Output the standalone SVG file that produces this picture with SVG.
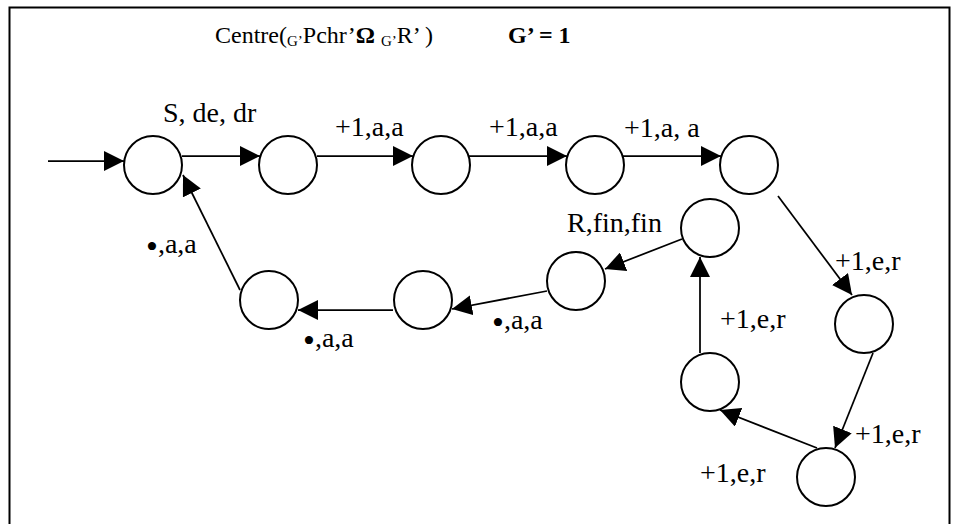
<svg xmlns="http://www.w3.org/2000/svg" width="959" height="524" viewBox="0 0 959 524">
<style>
.node{fill:#fff;stroke:#000;stroke-width:2}
.edge{fill:none;stroke:#000;stroke-width:1.75;marker-end:url(#arr)}
.lbl{font-family:"Liberation Serif","Times New Roman",serif;font-size:28px;fill:#000}
.ttl{font-family:"Liberation Serif","Times New Roman",serif;font-size:24px;fill:#000}
.sub{font-size:15px}
.bul{font-size:34px}
</style>
<defs>
<marker id="arr" markerUnits="userSpaceOnUse" markerWidth="20" markerHeight="20" refX="20" refY="10" orient="auto">
<path d="M0,0 L20,10 L0,20 z" fill="#000"/>
</marker>
</defs>
<rect x="9.5" y="7.5" width="940" height="540" fill="#fff" stroke="#000" stroke-width="2"/>
<g id="title">
<text class="ttl" x="215" y="43">Centre(<tspan class="sub" dy="3">G’</tspan><tspan dy="-3">Pchr’</tspan><tspan font-weight="bold">Ω </tspan><tspan class="sub" dy="3">G’</tspan><tspan dy="-3">R’ )</tspan></text>
<text class="ttl" x="508" y="43" font-weight="bold" font-size="21">G’ = 1</text>
</g>
<g id="connectors">
<line class="edge" x1="48" y1="161" x2="124" y2="161"/>
<line class="edge" x1="182" y1="156" x2="260" y2="156"/>
<line class="edge" x1="317" y1="156" x2="413" y2="156"/>
<line class="edge" x1="469" y1="156" x2="567" y2="156"/>
<line class="edge" x1="623" y1="156" x2="721" y2="156"/>
<line class="edge" x1="778" y1="196" x2="852" y2="295"/>
<line class="edge" x1="873" y1="353" x2="835" y2="448"/>
<line class="edge" x1="817" y1="448" x2="720" y2="410"/>
<line class="edge" x1="700" y1="353" x2="700" y2="257"/>
<line class="edge" x1="682" y1="239" x2="605" y2="269"/>
<line class="edge" x1="547" y1="291" x2="452" y2="309"/>
<line class="edge" x1="393" y1="310" x2="298" y2="310"/>
<line class="edge" x1="240" y1="290" x2="183" y2="175"/>
</g>
<g id="n1"><circle class="node" cx="153" cy="165" r="29"/></g>
<g id="n2"><circle class="node" cx="288" cy="165" r="29"/></g>
<g id="n3"><circle class="node" cx="441" cy="165" r="29"/></g>
<g id="n4"><circle class="node" cx="595" cy="165" r="29"/></g>
<g id="n5"><circle class="node" cx="749" cy="165" r="29"/></g>
<g id="n10"><circle class="node" cx="864" cy="324" r="29"/></g>
<g id="n11"><circle class="node" cx="826" cy="477" r="29"/></g>
<g id="n12"><circle class="node" cx="710" cy="382" r="29"/></g>
<g id="n9"><circle class="node" cx="710" cy="228" r="29"/></g>
<g id="n8"><circle class="node" cx="576" cy="281" r="29"/></g>
<g id="n7"><circle class="node" cx="423" cy="300" r="29"/></g>
<g id="n6"><circle class="node" cx="269" cy="300" r="29"/></g>
<g id="labels">
<text class="lbl" x="163" y="122">S, de, dr</text>
<text class="lbl" x="335" y="136">+1,a,a</text>
<text class="lbl" x="489" y="136">+1,a,a</text>
<text class="lbl" x="624" y="137">+1,a, a</text>
<text class="lbl" x="835" y="270">+1,e,r</text>
<text class="lbl" x="567" y="232">R,fin,fin</text>
<text class="lbl" x="146" y="253"><tspan class="bul" dy="5">•</tspan><tspan dy="-5">,a,a</tspan></text>
<text class="lbl" x="492" y="329"><tspan class="bul" dy="5">•</tspan><tspan dy="-5">,a,a</tspan></text>
<text class="lbl" x="303" y="347"><tspan class="bul" dy="5">•</tspan><tspan dy="-5">,a,a</tspan></text>
<text class="lbl" x="720" y="328">+1,e,r</text>
<text class="lbl" x="855" y="443">+1,e,r</text>
<text class="lbl" x="700" y="482">+1,e,r</text>
</g>
</svg>
